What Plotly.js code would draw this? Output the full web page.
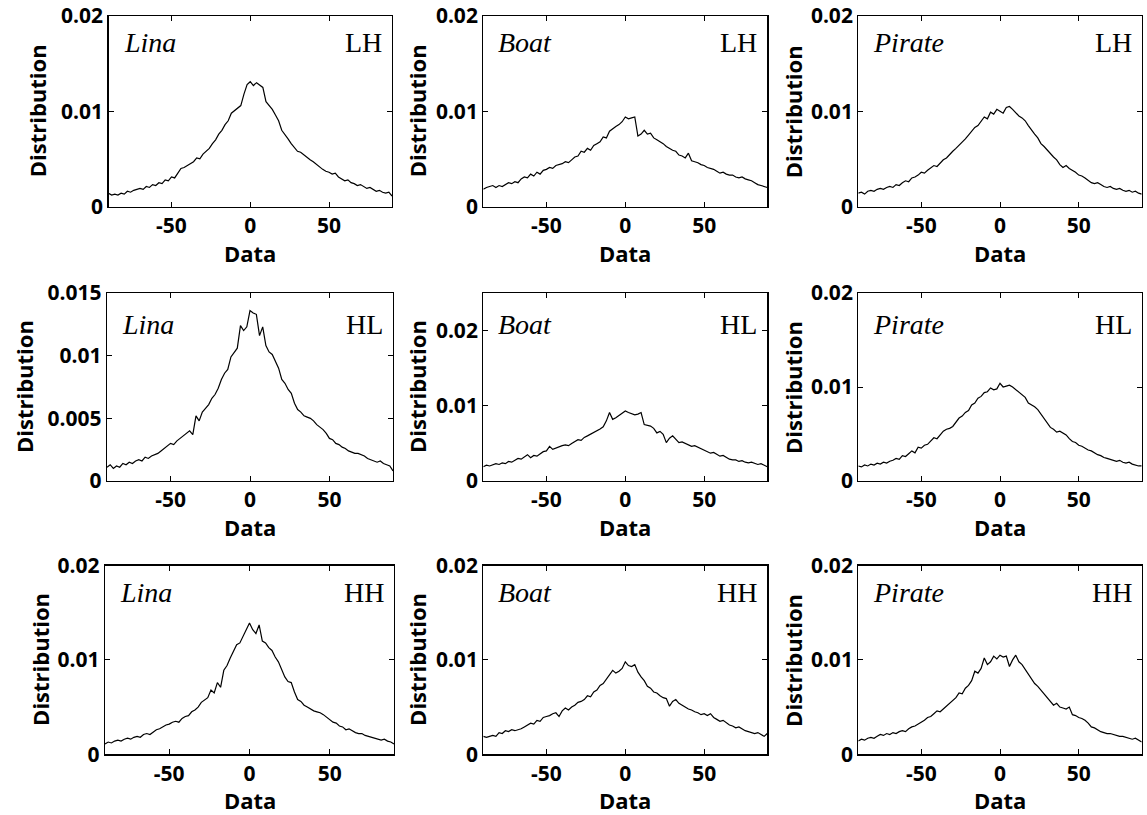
<!DOCTYPE html>
<html><head><meta charset="utf-8">
<script src="https://cdn.plot.ly/plotly-3.0.1.min.js"></script>
<style>html,body{margin:0;padding:0;background:#fff}</style>
</head><body>
<div id="chart" style="width:1147px;height:815px"></div>
<script>
// ---- data ----
const xStart = -90, xStep = 2;
const images = ["Lina", "Boat", "Pirate"];
const bands = ["LH", "HL", "HH"];
const xTickVals = [-50, 0, 50];
const xTickLabels = ["-50", "0", "50"];
const xLabel = "Data";
const yLabel = "Distribution";

const linaLH = [
.0014,.0012,.0013,.0012,.0014,.0013,.0016,.0015,.0017,.0018,
.0019,.0018,.0021,.0020,.0023,.0022,.0025,.0024,.0028,.0027,
.0031,.0030,.0035,.0040,.0041,.0043,.0045,.0047,.0051,.0050,
.0055,.0058,.0061,.0066,.0070,.0076,.0080,.0086,.0090,.0098,
.0101,.0104,.0106,.0118,.0128,.0131,.0127,.0130,.0127,.0125,
.0110,.0106,.0102,.0096,.0090,.0080,.0076,.0071,.0066,.0062,
.0058,.0057,.0054,.0051,.0049,.0047,.0044,.0042,.0039,.0037,
.0036,.0034,.0035,.0031,.0029,.0027,.0028,.0025,.0024,.0022,
.0023,.0021,.0019,.0020,.0018,.0016,.0017,.0015,.0014,.0015,
.0011];
const boatLH = [
.0018,.0020,.0021,.0022,.0020,.0022,.0021,.0023,.0025,.0024,
.0026,.0025,.0029,.0031,.0030,.0034,.0032,.0036,.0034,.0038,
.0039,.0041,.0040,.0043,.0044,.0045,.0047,.0046,.0049,.0052,
.0053,.0058,.0057,.0061,.0059,.0064,.0066,.0068,.0073,.0072,
.0079,.0082,.0084,.0086,.0089,.0094,.0092,.0093,.0094,.0074,
.0076,.0080,.0076,.0077,.0072,.0070,.0068,.0066,.0063,.0061,
.0059,.0058,.0054,.0053,.0051,.0056,.0048,.0047,.0046,.0044,
.0043,.0041,.0040,.0039,.0037,.0035,.0036,.0034,.0033,.0033,
.0031,.0030,.0031,.0029,.0028,.0027,.0025,.0023,.0022,.0021,
.0020];
const pirateLH = [
.0014,.0015,.0013,.0016,.0017,.0016,.0018,.0019,.0018,.0020,
.0021,.0020,.0023,.0022,.0025,.0027,.0026,.0030,.0031,.0033,
.0036,.0035,.0038,.0041,.0043,.0042,.0046,.0049,.0051,.0055,
.0058,.0061,.0064,.0068,.0071,.0075,.0079,.0083,.0085,.0089,
.0094,.0092,.0099,.0097,.0102,.0100,.0098,.0104,.0105,.0102,
.0098,.0095,.0093,.0090,.0085,.0080,.0076,.0072,.0066,.0063,
.0059,.0056,.0052,.0049,.0044,.0041,.0043,.0040,.0038,.0036,
.0033,.0032,.0030,.0027,.0025,.0024,.0025,.0023,.0021,.0020,
.0021,.0019,.0018,.0019,.0017,.0016,.0017,.0015,.0016,.0014,
.0013];
const linaHL = [
.0011,.0013,.0010,.0012,.0011,.0014,.0013,.0015,.0014,.0016,
.0017,.0016,.0019,.0018,.0020,.0021,.0022,.0024,.0026,.0028,
.0030,.0029,.0032,.0034,.0036,.0038,.0040,.0037,.0052,.0048,
.0055,.0058,.0061,.0066,.0069,.0074,.0081,.0086,.0089,.0099,
.0103,.0106,.0124,.0120,.0123,.0136,.0134,.0133,.0116,.0123,
.0108,.0103,.0101,.0095,.0090,.0081,.0078,.0073,.0070,.0062,
.0057,.0055,.0052,.0051,.0050,.0048,.0045,.0043,.0041,.0038,
.0034,.0033,.0030,.0029,.0027,.0026,.0024,.0023,.0022,.0022,
.0021,.0020,.0018,.0017,.0016,.0015,.0016,.0014,.0013,.0012,
.0008];
const boatHL = [
.0019,.0021,.0020,.0022,.0023,.0022,.0024,.0023,.0026,.0025,
.0027,.0030,.0029,.0032,.0035,.0031,.0034,.0033,.0036,.0039,
.0040,.0046,.0042,.0044,.0045,.0047,.0048,.0047,.0050,.0053,
.0055,.0054,.0058,.0060,.0062,.0064,.0066,.0069,.0072,.0080,
.0091,.0082,.0084,.0087,.0089,.0093,.0091,.0089,.0088,.0089,
.0091,.0075,.0074,.0073,.0070,.0064,.0066,.0062,.0051,.0057,
.0060,.0055,.0051,.0052,.0050,.0048,.0046,.0047,.0045,.0044,
.0042,.0040,.0037,.0038,.0036,.0033,.0034,.0031,.0029,.0028,
.0028,.0026,.0027,.0025,.0024,.0025,.0023,.0022,.0023,.0021,
.0019];
const pirateHL = [
.0016,.0015,.0017,.0016,.0018,.0017,.0019,.0018,.0020,.0019,
.0021,.0022,.0024,.0023,.0027,.0026,.0029,.0032,.0030,.0036,
.0035,.0038,.0039,.0043,.0046,.0045,.0049,.0053,.0055,.0056,
.0058,.0063,.0067,.0069,.0073,.0075,.0081,.0083,.0088,.0090,
.0094,.0095,.0099,.0097,.0098,.0104,.0100,.0101,.0102,.0100,
.0097,.0095,.0092,.0089,.0083,.0081,.0079,.0076,.0071,.0067,
.0061,.0057,.0055,.0052,.0053,.0051,.0049,.0045,.0042,.0041,
.0038,.0037,.0035,.0033,.0032,.0030,.0028,.0027,.0025,.0024,
.0023,.0022,.0021,.0022,.0020,.0019,.0020,.0018,.0017,.0016,
.0016];
const linaHH = [
.0011,.0013,.0012,.0014,.0015,.0014,.0016,.0017,.0016,.0018,
.0019,.0018,.0021,.0022,.0021,.0024,.0026,.0027,.0029,.0031,
.0032,.0034,.0035,.0034,.0038,.0040,.0041,.0045,.0047,.0050,
.0055,.0058,.0060,.0068,.0065,.0076,.0071,.0089,.0094,.0102,
.0109,.0116,.0118,.0125,.0133,.0139,.0132,.0128,.0137,.0120,
.0118,.0113,.0110,.0103,.0098,.0090,.0082,.0077,.0076,.0066,
.0058,.0056,.0052,.0050,.0048,.0046,.0045,.0044,.0042,.0039,
.0036,.0034,.0033,.0030,.0029,.0026,.0027,.0025,.0023,.0022,
.0022,.0020,.0019,.0018,.0017,.0016,.0015,.0016,.0014,.0013,
.0011];
const boatHH = [
.0019,.0018,.0019,.0020,.0019,.0023,.0022,.0025,.0024,.0026,
.0025,.0026,.0027,.0029,.0031,.0033,.0032,.0036,.0035,.0039,
.0040,.0041,.0043,.0044,.0040,.0046,.0049,.0047,.0050,.0052,
.0055,.0056,.0058,.0062,.0061,.0066,.0068,.0073,.0075,.0080,
.0084,.0089,.0086,.0088,.0091,.0098,.0094,.0093,.0095,.0087,
.0082,.0078,.0072,.0070,.0066,.0065,.0062,.0060,.0059,.0051,
.0056,.0058,.0054,.0052,.0050,.0048,.0047,.0045,.0044,.0042,
.0043,.0041,.0043,.0039,.0037,.0035,.0036,.0033,.0031,.0030,
.0028,.0029,.0027,.0025,.0024,.0023,.0022,.0023,.0021,.0019,
.0022];
const pirateHH = [
.0014,.0016,.0015,.0017,.0018,.0017,.0019,.0021,.0020,.0022,
.0021,.0023,.0022,.0024,.0025,.0024,.0027,.0029,.0030,.0032,
.0034,.0036,.0039,.0040,.0043,.0046,.0045,.0048,.0051,.0054,
.0057,.0060,.0065,.0064,.0070,.0073,.0078,.0088,.0086,.0091,
.0102,.0095,.0098,.0104,.0101,.0105,.0103,.0104,.0093,.0100,
.0105,.0098,.0095,.0090,.0086,.0080,.0075,.0072,.0068,.0064,
.0061,.0057,.0052,.0054,.0050,.0049,.0048,.0050,.0042,.0041,
.0039,.0038,.0036,.0033,.0029,.0028,.0026,.0024,.0023,.0022,
.0022,.0021,.0020,.0019,.0019,.0018,.0017,.0016,.0017,.0015,
.0013];

const panelSeries = [
  [linaLH, boatLH, pirateLH],
  [linaHL, boatHL, pirateHL],
  [linaHH, boatHH, pirateHH]
];
const yMax = [[0.02, 0.02, 0.02], [0.015, 0.025, 0.02], [0.02, 0.02, 0.02]];
const yStep = [[0.01, 0.01, 0.01], [0.005, 0.01, 0.01], [0.01, 0.01, 0.01]];

// ---- layout geometry (pixels) ----
const W = 1147, H = 815;
const colX = [
  [[108.5, 392], [483.3, 767.3], [858.3, 1141.7]],
  [[107, 393], [483.3, 767.3], [858.3, 1141.7]],
  [[105, 394], [483.3, 767.3], [858.3, 1141.7]]
];
const rowY = [[16, 206.5], [293, 481], [565.5, 754.3]];
const labelDrop = [26.5, 32, 26.5];
const yTitleX = [[37, 417, 793], [24, 417, 793], [40, 417, 793]];
const xTitleDrop = 46;

const sans = "'Open Sans', 'Noto Sans', sans-serif";
const serif = "'Liberation Serif', 'DejaVu Serif', serif";
const tickFont = {family: sans, size: 21, weight: 'bold', color: '#000'};
const titleFont = {family: sans, size: 22, weight: 'bold', color: '#000'};

const data = [];
const layout = {
  width: W, height: H, margin: {l: 0, r: 0, t: 0, b: 0},
  paper_bgcolor: '#fff', plot_bgcolor: '#fff', showlegend: false,
  annotations: []
};

const baseAxis = {
  showline: true, linecolor: '#000', linewidth: 1.2, mirror: 'ticks',
  ticks: 'inside', ticklen: 5, tickwidth: 1, tickcolor: '#000',
  showgrid: false, zeroline: false, tickfont: tickFont, fixedrange: true,
  ticklabeloverflow: 'allow'
};

for (let r = 0; r < 3; r++) {
  for (let c = 0; c < 3; c++) {
    const k = r * 3 + c + 1;
    const xa = k === 1 ? 'x' : 'x' + k;
    const ya = k === 1 ? 'y' : 'y' + k;
    data.push({
      type: 'scatter', mode: 'lines', x0: xStart, dx: xStep,
      y: panelSeries[r][c], xaxis: xa, yaxis: ya,
      line: {color: '#000', width: 1.2}, hoverinfo: 'skip'
    });
    const [x0, x1] = colX[r][c];
    const [y0, y1] = rowY[r];
    layout['xaxis' + (k === 1 ? '' : k)] = Object.assign({}, baseAxis, {
      domain: [x0 / W, x1 / W], anchor: ya, range: [-90, 90],
      tickmode: 'array', tickvals: xTickVals, ticktext: xTickLabels
    });
    layout['yaxis' + (k === 1 ? '' : k)] = Object.assign({}, baseAxis, {
      domain: [1 - y1 / H, 1 - y0 / H], anchor: xa, range: [0, yMax[r][c]],
      tickmode: 'linear', tick0: 0, dtick: yStep[r][c]
    });
    // axis titles
    layout.annotations.push({
      xref: 'paper', yref: 'paper', x: (x0 + x1) / 2 / W, y: 1 - (y1 + xTitleDrop) / H,
      xanchor: 'center', yanchor: 'middle', showarrow: false, text: xLabel, font: titleFont
    });
    layout.annotations.push({
      xref: 'paper', yref: 'paper', x: yTitleX[r][c] / W, y: 1 - (y0 + y1) / 2 / H,
      xanchor: 'center', yanchor: 'middle', showarrow: false, text: yLabel,
      textangle: -90, font: titleFont
    });
    // panel labels
    layout.annotations.push({
      xref: 'paper', yref: 'paper', x: (x0 + 13) / W, y: 1 - (y0 + labelDrop[r]) / H,
      xanchor: 'left', yanchor: 'middle', showarrow: false, text: images[c],
      font: {family: serif, size: 28, style: 'italic', color: '#000'}
    });
    layout.annotations.push({
      xref: 'paper', yref: 'paper', x: (x1 - 8) / W, y: 1 - (y0 + labelDrop[r]) / H,
      xanchor: 'right', yanchor: 'middle', showarrow: false, text: bands[r],
      font: {family: serif, size: 28, color: '#000'}
    });
  }
}

Plotly.newPlot('chart', data, layout, {displayModeBar: false, staticPlot: true});
</script>
</body></html>
